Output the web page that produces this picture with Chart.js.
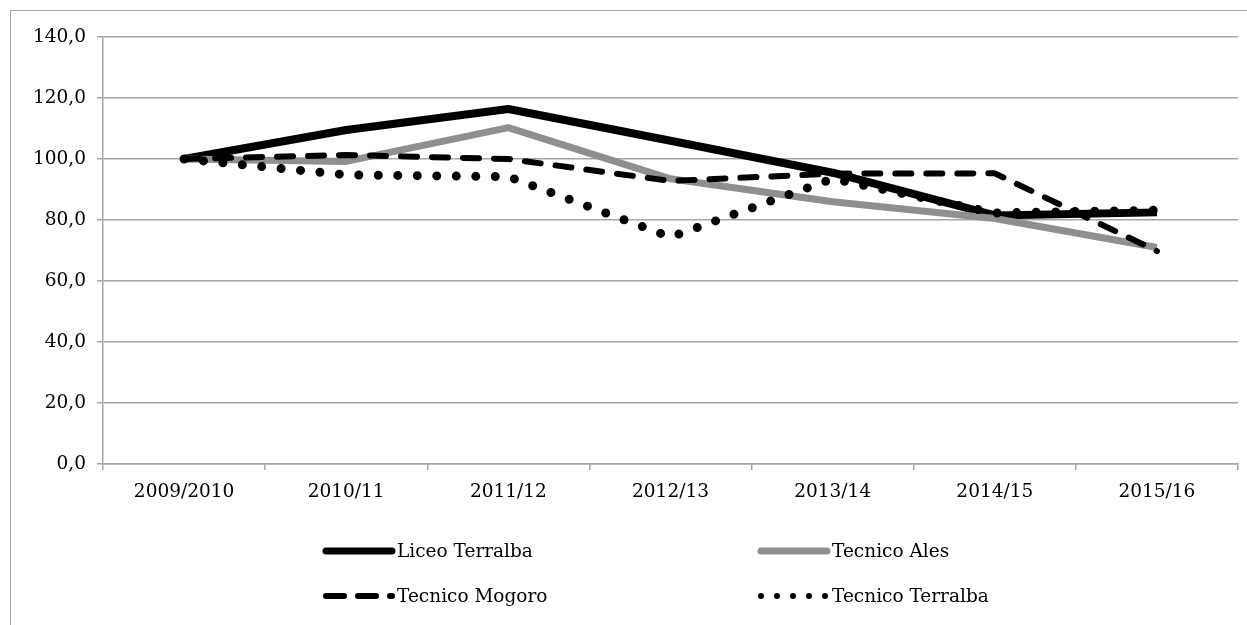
<!DOCTYPE html>
<html>
<head>
<meta charset="utf-8">
<script src="https://cdn.jsdelivr.net/npm/chart.js@4"></script>
<style>
html,body{margin:0;padding:0;background:#fff;overflow:hidden;}
#wrap{position:absolute;left:0;top:0;width:1247px;height:625px;}
#frame{position:absolute;left:10px;top:10px;width:1400px;height:800px;border:1px solid #a6a6a6;box-sizing:border-box;}
canvas{position:absolute;left:0;top:0;}
</style>
</head>
<body>
<div id="wrap">
<div id="frame"></div>
<canvas id="c" width="1247" height="625"></canvas>
</div>
<script>
const categories = ['2009/2010','2010/11','2011/12','2012/13','2013/14','2014/15','2015/16'];
const liceoTerralba = [100, 109.5, 116.4, 106.0, 95.5, 81.5, 82.5];
const tecnicoAles = [100, 99.2, 110.3, 93.5, 86.0, 80.5, 71.0];
const tecnicoMogoro = [100, 101.3, 100.0, 92.8, 95.2, 95.3, 69.8];
const tecnicoTerralba = [100, 94.8, 94.2, 74.4, 93.5, 82.3, 83.2];
const seriesNames = ['Liceo Terralba','Tecnico Ales','Tecnico Mogoro','Tecnico Terralba'];
const yTicks = [0, 20, 40, 60, 80, 100, 120, 140];

const FONT = 'DejaVu Serif';
const FSIZE = 18.5;
const GRID = '#a6a6a6';

const legendPlugin = {
  id: 'gridLegend',
  afterDraw(chart) {
    const ctx = chart.ctx;
    const ds = chart.data.datasets;
    const slots = [
      {x: 322, y: 551}, {x: 757, y: 551},
      {x: 322, y: 596}, {x: 757, y: 596}
    ];
    ctx.save();
    ds.forEach((d, k) => {
      const s = slots[k];
      ctx.beginPath();
      ctx.lineCap = 'round';
      ctx.strokeStyle = d.borderColor;
      ctx.lineWidth = d.legendWidth;
      ctx.setLineDash(d.legendDash || []);
      ctx.moveTo(s.x + 4, s.y);
      ctx.lineTo(s.x + 70, s.y);
      ctx.stroke();
      ctx.setLineDash([]);
      ctx.fillStyle = '#000';
      ctx.font = FSIZE + 'px "' + FONT + '"';
      ctx.textBaseline = 'middle';
      ctx.textAlign = 'left';
      ctx.fillText(d.label, s.x + 75, s.y + 1);
    });
    ctx.restore();
  }
};

new Chart(document.getElementById('c'), {
  type: 'line',
  data: {
    labels: categories,
    datasets: [
      {label: seriesNames[0], data: liceoTerralba, borderColor: '#000', borderWidth: 8, order: 3,
       legendWidth: 7},
      {label: seriesNames[1], data: tecnicoAles, borderColor: '#8f8f8f', borderWidth: 7, order: 2,
       legendWidth: 7},
      {label: seriesNames[2], data: tecnicoMogoro, borderColor: '#000', borderWidth: 6, order: 1,
       borderDash: [16, 15], borderCapStyle: 'round', legendWidth: 6, legendDash: [18, 14]},
      {label: seriesNames[3], data: tecnicoTerralba, borderColor: '#000', borderWidth: 9, order: 0,
       borderDash: [0, 19.5], borderCapStyle: 'round', legendWidth: 6, legendDash: [0, 16]}
    ]
  },
  options: {
    responsive: false,
    animation: false,
    devicePixelRatio: 1,
    layout: {padding: {left: 0, right: 9, top: 37, bottom: 0}},
    elements: {
      line: {tension: 0, fill: false, borderJoinStyle: 'round'},
      point: {radius: 0, hoverRadius: 0}
    },
    plugins: {legend: {display: false}, tooltip: {enabled: false}},
    scales: {
      x: {
        offset: true,
        grid: {display: true, drawOnChartArea: false, drawTicks: true, tickLength: 6, color: GRID, lineWidth: 1.5, offset: true},
        border: {display: true, color: GRID, width: 1.5},
        ticks: {color: '#000', font: {family: FONT, size: FSIZE}, padding: 11, maxRotation: 0, autoSkip: false},
        afterFit(scale) { scale.height = 161; }
      },
      y: {
        min: 0, max: 140,
        afterBuildTicks(scale) { scale.ticks = yTicks.map(v => ({value: v})); },
        grid: {color: GRID, lineWidth: 1.5, tickLength: 6, drawTicks: true},
        border: {display: true, color: GRID, width: 1.5},
        ticks: {
          color: '#000', font: {family: FONT, size: FSIZE}, padding: 11,
          callback: v => v.toFixed(1).replace('.', ',')
        },
        afterFit(scale) { scale.width = 103; }
      }
    }
  },
  plugins: [legendPlugin]
});
</script>
</body>
</html>
